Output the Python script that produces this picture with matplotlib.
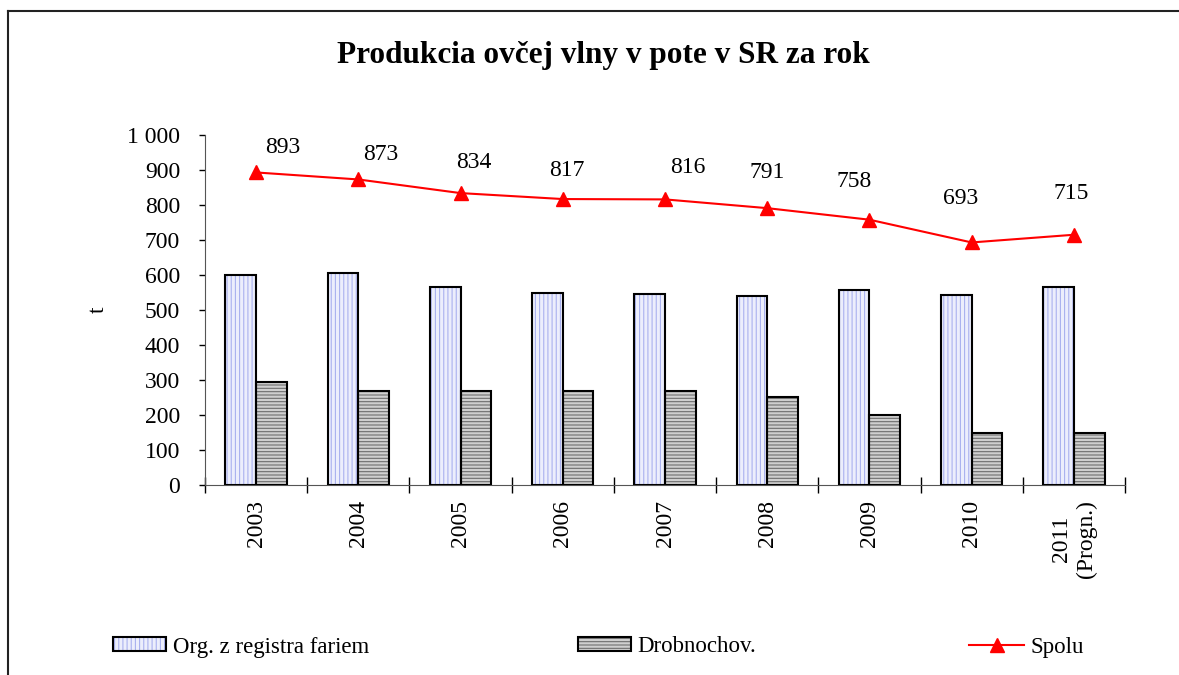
import matplotlib
matplotlib.use('Agg')
import matplotlib.pyplot as plt
import matplotlib.patches as patches
from matplotlib.lines import Line2D
from matplotlib.legend_handler import HandlerTuple
from matplotlib.ticker import FuncFormatter
import numpy as np

plt.rcParams['font.family'] = ['Liberation Serif', 'DejaVu Serif']
plt.rcParams['hatch.linewidth'] = 0.8

# data
years = ['2003', '2004', '2005', '2006', '2007', '2008', '2009', '2010', '2011\n(Progn.)']
org_farms = [600, 605, 566, 549, 546, 540, 558, 543, 565]
drobnochov = [293, 268, 268, 268, 270, 251, 200, 150, 150]
spolu = [893, 873, 834, 817, 816, 791, 758, 693, 715]

# label offsets (pixels) for the totals
lab_dx = [27, 22, 13, 4, 23, 0, -15, -11, -3]
lab_dy = [25, 25, 31, 29, 32, 36, 38, 44, 41]

W, H = 1179, 675
fig = plt.figure(figsize=(W / 100, H / 100), dpi=100)
ax = fig.add_axes([205 / W, 1 - 485 / H, (1125 - 205) / W, (485 - 135) / H])

x = np.arange(len(years))
bw = 0.3

org_fill = '#eceefc'
org_hatch = '#a9b1ef'
drob_fill = '#cfcfcf'
drob_hatch = '#6e6e6e'

# hatched fills first, then black outlines on top
ax.bar(x - bw / 2, org_farms, bw, color=org_fill, edgecolor=org_hatch, hatch='||||', linewidth=0, zorder=2)
ax.bar(x + bw / 2, drobnochov, bw, color=drob_fill, edgecolor=drob_hatch, hatch='-----', linewidth=0, zorder=2)
ax.bar(x - bw / 2, org_farms, bw, fill=False, edgecolor='black', linewidth=1.5, zorder=3)
ax.bar(x + bw / 2, drobnochov, bw, fill=False, edgecolor='black', linewidth=1.5, zorder=3)

ax.plot(x, spolu, color='red', linewidth=1.5, marker='^', markersize=10, zorder=4)
for i, v in enumerate(spolu):
    ax.annotate(str(v), (x[i], v), xytext=(lab_dx[i], lab_dy[i]), textcoords='offset pixels',
                ha='center', va='center', fontsize=17)

ax.set_xlim(-0.5, len(years) - 0.5)
ax.set_ylim(0, 1000)
ax.set_yticks(np.arange(0, 1001, 100))
ax.yaxis.set_major_formatter(FuncFormatter(lambda v, p: f'{int(v):,}'.replace(',', ' ')))
ax.tick_params(axis='y', direction='out', length=4, width=1, pad=14, labelsize=17, color='black')

ax.set_xticks(x)
ax.set_xticklabels(years, rotation=90, fontsize=17, va='top', ha='center', multialignment='center')
ax.tick_params(axis='x', which='major', length=0, pad=11)
ax.set_xticks(np.arange(-0.5, len(years), 1), minor=True)
ax.tick_params(axis='x', which='minor', direction='inout', length=12, width=1)

for s in ['top', 'right']:
    ax.spines[s].set_visible(False)
ax.spines['left'].set_color('#555555')
ax.spines['bottom'].set_color('#555555')

ax.set_ylabel('t', fontsize=17, rotation=90, labelpad=13)

fig.text(603 / W, 1 - 55 / H, 'Produkcia ovčej vlny v pote v SR za rok', ha='center', va='center',
         fontsize=22.5, fontweight='bold')

# frame
fig.add_artist(Line2D([8 / W, 8 / W], [0, 1 - 11 / H], transform=fig.transFigure, color='#222222', lw=1.5))
fig.add_artist(Line2D([8 / W, 1], [1 - 11 / H, 1 - 11 / H], transform=fig.transFigure, color='#222222', lw=1.5))

# legends
h_org = (patches.Patch(facecolor=org_fill, edgecolor=org_hatch, hatch='||||', linewidth=0),
         patches.Patch(fill=False, edgecolor='black', linewidth=1.5))
h_drob = (patches.Patch(facecolor=drob_fill, edgecolor=drob_hatch, hatch='-----', linewidth=0),
          patches.Patch(fill=False, edgecolor='black', linewidth=1.5))
h_sp = Line2D([], [], color='red', linewidth=1.5, marker='^', markersize=10)

ly = 1 - 647 / H
common = dict(loc='center left', frameon=False, fontsize=16.5, borderpad=0, borderaxespad=0,
              handletextpad=0.3, handler_map={tuple: HandlerTuple(ndivide=1, pad=0)})
fig.legend([h_org], ['Org. z registra fariem'], bbox_to_anchor=(113 / W, ly), handlelength=2.3, handleheight=0.55, **common)
fig.legend([h_drob], ['Drobnochov.'], bbox_to_anchor=(578 / W, ly), handlelength=2.3, handleheight=0.55, **common)
fig.legend([h_sp], ['Spolu'], bbox_to_anchor=(969 / W, ly), handlelength=2.4, **common)

fig.savefig('out.png', dpi=100, facecolor='white')
